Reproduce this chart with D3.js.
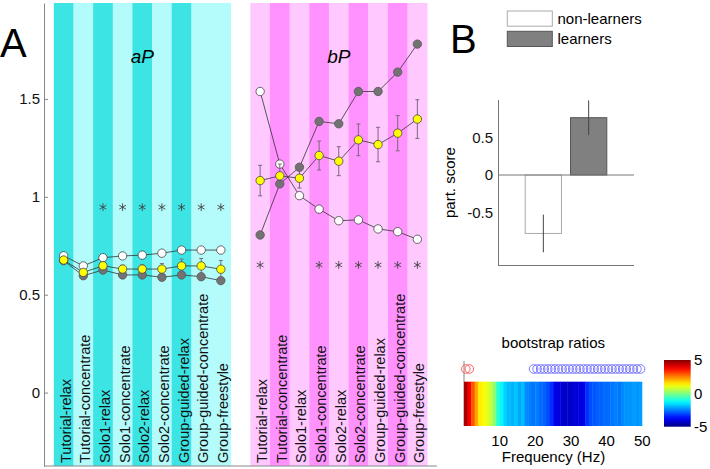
<!DOCTYPE html>
<html><head><meta charset="utf-8">
<script src="https://cdn.jsdelivr.net/npm/d3@7"></script>
<style>
html,body{margin:0;padding:0;background:#fff;}
text{font-family:"Liberation Sans",Arial,Helvetica,sans-serif;}
</style></head>
<body><svg id="c" width="710" height="469"></svg>
<script>
// ---------- DATA ----------
const categories = ["Tutorial-relax","Tutorial-concentrate","Solo1-relax","Solo1-concentrate","Solo2-relax","Solo2-concentrate","Group-guided-relax","Group-guided-concentrate","Group-freestyle"];
const aPShade = [1,0,1,0,1,0,1,0,0];
const bPShade = [0,1,0,1,0,1,0,1,0];
const aPNon   = [0.699,0.647,0.689,0.698,0.702,0.712,0.728,0.728,0.728];
const aPLearn = [0.674,0.597,0.626,0.601,0.601,0.589,0.601,0.592,0.572];
const aPMean  = [0.677,0.614,0.648,0.631,0.631,0.631,0.647,0.647,0.630];
const aPErr   = [0.012,0.015,0.018,0.02,0.022,0.028,0.035,0.038,0.045];
const aPSig   = [0,0,1,1,1,1,1,1,1];
const bPNon   = [1.538,1.167,1.006,0.937,0.878,0.882,0.836,0.822,0.783];
const bPLearn = [0.805,1.066,1.151,1.385,1.373,1.538,1.538,1.637,1.780];
const bPMean  = [1.083,1.107,1.095,1.211,1.182,1.291,1.267,1.325,1.397];
const bPErr   = [0.078,0.06,0.05,0.074,0.074,0.081,0.088,0.09,0.099];
const bPSig   = [1,0,0,1,1,1,1,1,1];
const aPStarLevel = 0.947, bPStarLevel = 0.652;
const yTicksA = [0,0.5,1,1.5];

const groups = ["non-learners","learners"];
const partScore = [-0.775, 0.76];
const partErr = [0.25, 0.23];
const yTicksB = [-0.5,0,0.5];

const freqs = d3.range(1,51);
const bsr = [4.6,3.8,2.9,2.1,1.4,1.3,1.0,0.7,0.1,-0.8,
             -1.3,-1.7,-1.9,-2.0,-1.8,-2.1,-1.9,-2.4,-2.5,-2.6,
             -2.5,-2.7,-2.8,-3.0,-3.3,-3.9,-4.1,-4.2,-4.3,-4.3,
             -4.2,-4.1,-4.1,-4.0,-3.3,-3.0,-2.9,-2.8,-2.8,-2.7,
             -2.7,-2.6,-2.5,-2.6,-2.4,-2.3,-2.3,-2.2,-2.3,-2.2];
const sigPos = [1,2];
const sigNeg = d3.range(20,51);
const freqTicks = [10,20,30,40,50];
const cbTicks = [-5,0,5];

// ---------- DRAW ----------
const svg = d3.select("#c");
const jet = t => {
  const c = v => Math.max(0, Math.min(1, v));
  const r = c(Math.min(4*t-1.5, -4*t+4.5)), g = c(Math.min(4*t-0.5, -4*t+3.5)), b = c(Math.min(4*t+0.5, -4*t+2.5));
  return d3.rgb(r*255, g*255, b*255).toString();
};

// Panel A
const xA = d3.scaleLinear().domain([0,20]).range([44,437]);
const yA = d3.scaleLinear().domain([-0.375,1.99]).range([466,3]);
const gA = svg.append("g");
const colW = xA(1)-xA(0);
const shadeA = ["#b4fbfb","#3ce4e4"], shadeB = ["#ffc8ff","#ff92ff"];
categories.forEach((c,i)=>{
  gA.append("rect").attr("x",xA(i+1)-colW/2).attr("width",colW+0.3).attr("y",yA(1.99)).attr("height",yA(-0.375)-yA(1.99)).attr("fill",shadeA[aPShade[i]]);
  gA.append("rect").attr("x",xA(i+11)-colW/2).attr("width",colW+0.3).attr("y",yA(1.99)).attr("height",yA(-0.375)-yA(1.99)).attr("fill",shadeB[bPShade[i]]);
});
[0,10].forEach(off=>{
  categories.forEach((c,i)=>{
    gA.append("text").attr("transform",`translate(${xA(i+1+off)+7},463) rotate(-90)`)
      .attr("font-size","14.5px").attr("fill","#111").text(c);
  });
});
gA.append("text").attr("x",xA(5)).attr("y",63).attr("text-anchor","middle").attr("font-size","19px").attr("font-style","italic").text("aP");
gA.append("text").attr("x",xA(15)).attr("y",63).attr("text-anchor","middle").attr("font-size","19px").attr("font-style","italic").text("bP");

function drawSeries(vals, off, fill, stroke){
  const pts = vals.map((v,i)=>[xA(i+1+off), yA(v)]);
  gA.append("path").attr("d", d3.line()(pts)).attr("fill","none").attr("stroke","#333").attr("stroke-width",0.8);
  gA.selectAll(null).data(pts).enter().append("circle").attr("cx",d=>d[0]).attr("cy",d=>d[1]).attr("r",4.2)
    .attr("fill",fill).attr("stroke",stroke).attr("stroke-width",0.8);
}
function drawErr(vals, errs, off){
  vals.forEach((v,i)=>{
    const x = xA(i+1+off);
    const g = gA.append("g").attr("stroke","#7a6a7a").attr("stroke-width",1);
    g.append("line").attr("x1",x).attr("x2",x).attr("y1",yA(v-errs[i])).attr("y2",yA(v+errs[i]));
    g.append("line").attr("x1",x-2).attr("x2",x+2).attr("y1",yA(v-errs[i])).attr("y2",yA(v-errs[i]));
    g.append("line").attr("x1",x-2).attr("x2",x+2).attr("y1",yA(v+errs[i])).attr("y2",yA(v+errs[i]));
  });
}
function drawStars(sig, off, level){
  sig.forEach((s,i)=>{ if(!s) return;
    gA.append("path").attr("d", d3.symbol(d3.symbolAsterisk, 42)()).attr("transform",`translate(${xA(i+1+off)},${yA(level)})`)
      .attr("fill","none").attr("stroke","#444").attr("stroke-width",0.9);
  });
}
drawStars(aPSig,0,aPStarLevel); drawStars(bPSig,10,bPStarLevel);
drawSeries(aPNon,0,"#fff","#444"); drawSeries(aPLearn,0,"#737373","#555");
drawErr(aPMean,aPErr,0); drawSeries(aPMean,0,"#ffff00","#444");
drawSeries(bPNon,10,"#fff","#444"); drawSeries(bPLearn,10,"#737373","#555");
drawErr(bPMean,bPErr,10); drawSeries(bPMean,10,"#ffff00","#444");

const axA = gA.append("g").attr("transform","translate(44,0)")
  .call(d3.axisLeft(yA).tickValues(yTicksA).tickFormat(d=>String(d)).tickSizeInner(-4).tickSizeOuter(0).tickPadding(4));
axA.select(".domain").attr("stroke","#888");
axA.selectAll(".tick line").attr("stroke","#888");
axA.selectAll("text").attr("font-size","15px").attr("fill","#111").attr("font-family","Liberation Sans, Arial, sans-serif");
gA.append("line").attr("x1",44).attr("x2",437).attr("y1",466).attr("y2",466).attr("stroke","#888");
svg.append("text").attr("x",0).attr("y",57).attr("font-size","40px").text("A");
svg.append("text").attr("x",450).attr("y",53).attr("font-size","40px").text("B");

// Panel B
const xB = d3.scaleLinear().domain([0,3]).range([498,634]);
const yB = d3.scaleLinear().domain([-1.2,1]).range([265.5,99.6]);
const gB = svg.append("g");
const barFill = ["#ffffff","#808080"], barStroke = ["#aaaaaa","#555555"];
groups.forEach((g,i)=>{
  const v = partScore[i], bw = (xB(1)-xB(0))*0.8;
  gB.append("rect").attr("x",xB(i+1)-bw/2).attr("width",bw).attr("y",yB(Math.max(0,v))).attr("height",Math.abs(yB(v)-yB(0)))
    .attr("fill",barFill[i]).attr("stroke",barStroke[i]).attr("stroke-width",1);
});
gB.append("line").attr("x1",xB(0)).attr("x2",xB(3)).attr("y1",yB(0)).attr("y2",yB(0)).attr("stroke","#777");
groups.forEach((g,i)=>{
  gB.append("line").attr("x1",xB(i+1)).attr("x2",xB(i+1)).attr("y1",yB(partScore[i]-partErr[i])).attr("y2",yB(partScore[i]+partErr[i]))
    .attr("stroke","#444").attr("stroke-width",1);
});
const axB = gB.append("g").attr("transform",`translate(${xB(0)},0)`)
  .call(d3.axisLeft(yB).tickValues(yTicksB).tickFormat(d=>String(d)).tickSizeInner(0).tickSizeOuter(0).tickPadding(5));
axB.select(".domain").attr("stroke","#777");
axB.selectAll("text").attr("font-size","15px").attr("fill","#111").attr("font-family","Liberation Sans, Arial, sans-serif");
gB.append("line").attr("x1",xB(0)).attr("x2",xB(3)).attr("y1",yB(-1.2)).attr("y2",yB(-1.2)).attr("stroke","#777");
gB.append("text").attr("transform",`translate(455,${(yB(1)+yB(-1.2))/2}) rotate(-90)`).attr("text-anchor","middle").attr("font-size","15px").text("part. score");
// legend
groups.forEach((g,i)=>{
  const y0 = 11 + i*20.3;
  gB.append("rect").attr("x",507.3).attr("y",y0).attr("width",45).attr("height",15.2).attr("fill",barFill[i]).attr("stroke",barStroke[i]);
  gB.append("text").attr("x",557.5).attr("y",y0+13).attr("font-size","15px").text(g);
});

// Bootstrap ratios
const xF = d3.scaleLinear().domain([0,50]).range([464,642.3]);
const cScale = d3.scaleLinear().domain([-5,5]).range([0,1]).clamp(true);
const gH = svg.append("g");
gH.append("line").attr("x1",464).attr("x2",464).attr("y1",361).attr("y2",426).attr("stroke","#888");
freqs.forEach((f,i)=>{
  gH.append("rect").attr("x",xF(f-1)).attr("width",xF(1)-xF(0)+(i<49?0.4:0)).attr("y",381.7).attr("height",44.3).attr("fill",jet(cScale(bsr[i])));
});
sigPos.forEach(f=>gH.append("circle").attr("cx",xF(f-0.5)).attr("cy",369).attr("r",4.3).attr("fill","none").attr("stroke","#ff4040").attr("stroke-width",0.8));
sigNeg.forEach(f=>gH.append("circle").attr("cx",xF(f-0.5)).attr("cy",369).attr("r",4.3).attr("fill","none").attr("stroke","#5a5aff").attr("stroke-width",0.8));
freqTicks.forEach(f=>gH.append("text").attr("x",xF(f)).attr("y",445.7).attr("text-anchor","middle").attr("font-size","15px").text(f));
gH.append("text").attr("x",553.5).attr("y",461.7).attr("text-anchor","middle").attr("font-size","15px").text("Frequency (Hz)");
gH.append("text").attr("x",553.3).attr("y",348).attr("text-anchor","middle").attr("font-size","15px").text("bootstrap ratios");
// colorbar
const yC = d3.scaleLinear().domain([-5,5]).range([426.7,360]);
const grad = svg.append("defs").append("linearGradient").attr("id","jetg").attr("x1",0).attr("y1",1).attr("x2",0).attr("y2",0);
d3.range(0,1.0001,0.05).forEach(t=>grad.append("stop").attr("offset",t).attr("stop-color",jet(t)));
gH.append("rect").attr("x",664).attr("y",yC(5)).attr("width",26.7).attr("height",yC(-5)-yC(5)).attr("fill","url(#jetg)");
cbTicks.forEach(v=>gH.append("text").attr("x",694).attr("y",yC(v)).attr("dy","0.35em").attr("font-size","15px").text(String(v)));
</script></body></html>
